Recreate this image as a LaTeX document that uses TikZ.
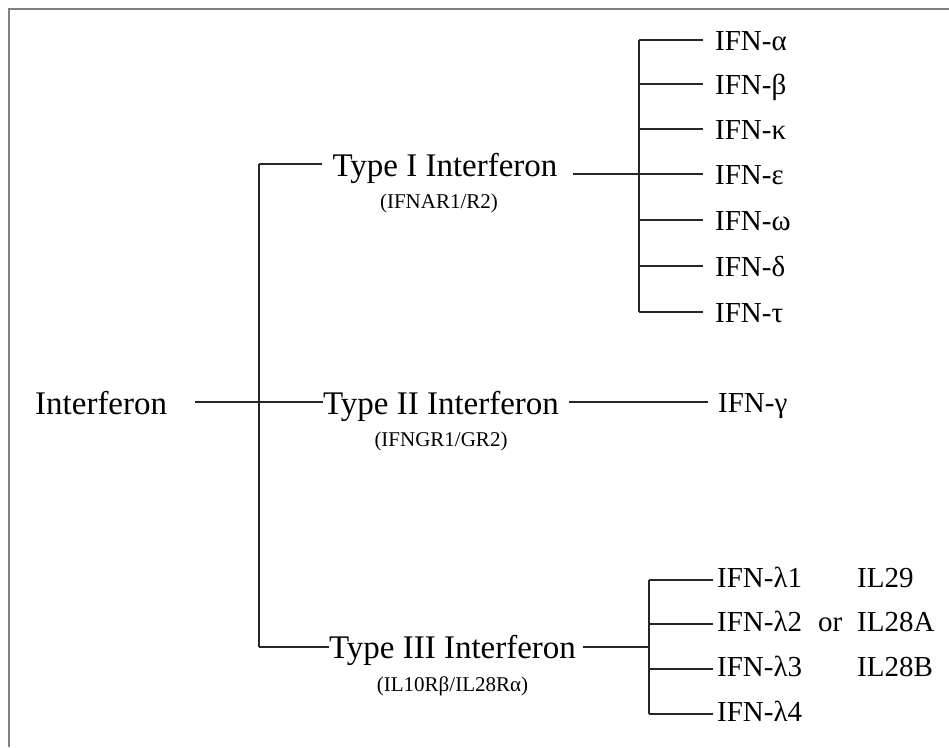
\documentclass[tikz,border=0pt]{standalone}
\usepackage{fontspec}
\setmainfont{Liberation Serif}
\usepackage{tikz}

\tikzset{
  big/.style={inner sep=0pt, font=\fontsize{33}{40}\selectfont},
  ifn/.style={inner sep=0pt, anchor=base west, font=\fontsize{29}{35}\selectfont},
  rcp/.style={inner sep=0pt, anchor=base, font=\fontsize{21}{25}\selectfont},
  link/.style={line width=1.2pt, draw=black!85},
  frame/.style={line width=2pt, draw=black!50},
}

\begin{document}
\begin{tikzpicture}[x=1pt,y=-1pt]
\useasboundingbox (0,0) rectangle (949,747);
\draw[frame] (9,747)--(9,9)--(949,9);

% root and the three types
\node[big,anchor=base west] (root) at (35,414) {Interferon};
\node[big,anchor=base] (t1) at (445,176) {Type I Interferon};
\node[big,anchor=base] (t2) at (441,414) {Type II Interferon};
\node[big,anchor=base] (t3) at (452.5,658) {Type III Interferon};
\node[rcp] (r1) at (439,208) {(IFNAR1/R2)};
\node[rcp] (r2) at (441,446) {(IFNGR1/GR2)};
\node[rcp] (r3) at (452.5,691) {(IL10Rβ/IL28Rα)};

\coordinate (top) at (259,164);
\coordinate (mid) at (259,402);
\coordinate (bot) at (259,647);
\coordinate (out) at (195,402);
\draw[link] (top)--(bot);
\draw[link] (top)--([xshift=-10pt]t1.west |- top);
\draw[link] (out)--(t2.west |- out);
\draw[link] (bot)--(t3.west |- bot);

% type I
\foreach \y/\g [count=\i] in {40/α,84/β,129/κ,174/ε,220/ω,266/δ,312/τ}{
  \coordinate (a\i) at (639,\y);
  \node[ifn] (f\i) at (715,\y+10) {IFN-\g};
  \draw[link] (a\i)--([xshift=-12pt]f\i.west |- a\i);
}
\draw[link] (a1)--(a7);
\draw[link] ([xshift=15pt]t1.east |- a4)--(a4);

% type II
\node[ifn] (g) at (718,412) {IFN-γ};
\draw[link] ([xshift=10pt]t2.east |- mid)--([xshift=-10pt]g.west |- mid);

% type III
\foreach \y [count=\i] in {580,624,669,714}{
  \coordinate (l\i) at (649,\y);
  \node[ifn] (m\i) at (717,\y+7) {IFN-λ\i};
  \draw[link] (l\i)--([xshift=-4pt]m\i.west |- l\i);
}
\draw[link] (l1)--(l4);
\draw[link] ([xshift=7pt]t3.east |- bot)--(l1 |- bot);
\node[ifn] (or) at (818,631) {or};
\node[ifn] (il1) at (857,587) {IL29};
\node[ifn] (il2) at (857,631) {IL28A};
\node[ifn] (il3) at (857,676) {IL28B};
\end{tikzpicture}
\end{document}
